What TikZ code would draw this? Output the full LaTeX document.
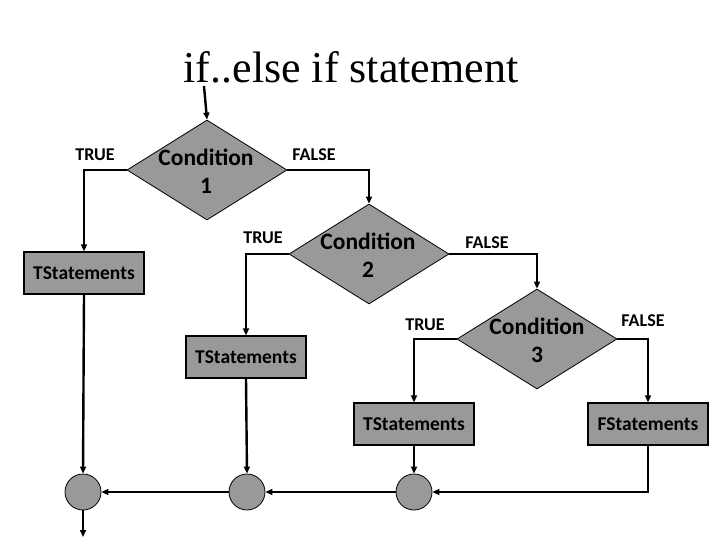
\documentclass[tikz,border=0pt]{standalone}
\usepackage{fontspec}
\setmainfont{Carlito}
\newfontfamily\titlefont{Liberation Serif}
\usetikzlibrary{shapes.geometric,arrows.meta}
\definecolor{boxgray}{HTML}{999999}
\tikzset{
  x=1pt,y=-1pt,
  cond/.style={shape=diamond,draw=black,fill=boxgray,line width=0.8pt,inner sep=0pt,minimum width=160pt,minimum height=100pt},
  condtext/.style={font=\bfseries\fontsize{23.5}{28}\selectfont,align=center,inner sep=0pt},
  stmt/.style={draw=black,fill=boxgray,line width=1.3pt,minimum width=120pt,minimum height=42pt,inner sep=0pt,font=\bfseries\fontsize{19.5}{22}\selectfont},
  junc/.style={shape=circle,draw=black,fill=boxgray,line width=0.8pt,minimum size=36pt,inner sep=0pt},
  lbl/.style={font=\bfseries\fontsize{18}{20}\selectfont,inner sep=0pt},
  conn/.style={line width=2.4pt,-{Triangle[length=7pt,width=6pt]}}
}
\begin{document}
\begin{tikzpicture}
\useasboundingbox (0,0) rectangle (720,540);
\node[font=\titlefont\fontsize{44}{48}\selectfont,anchor=base,inner sep=0pt] (title) at (351,83) {if..else if statement};
\coordinate (start) at (204,86);
\node[cond] (c1) at (207,170) {};
\node[condtext] (c1t) at (206,171) {Condition\\1};
\node[cond] (c2) at (369,254) {};
\node[condtext] (c2t) at (368,255) {Condition\\2};
\node[cond] (c3) at (537,339) {};
\node[condtext] (c3t) at (537,340) {Condition\\3};
\node[stmt] (b1) at (84,273) {TStatements};
\node[stmt] (b2) at (246,357) {TStatements};
\node[stmt] (b3) at (414,424) {TStatements};
\node[stmt] (b4) at (648,424) {FStatements};
\node[junc] (j1) at (83,492) {};
\node[junc] (j2) at (247,492) {};
\node[junc] (j3) at (414,492) {};
\coordinate (end) at (83,537);
\node[lbl] (t1) at (95,155) {TRUE};
\node[lbl] (f1) at (314,155) {FALSE};
\node[lbl] (t2) at (263,238) {TRUE};
\node[lbl] (f2) at (487,243) {FALSE};
\node[lbl] (t3) at (425,325) {TRUE};
\node[lbl] (f3) at (643,321) {FALSE};
\draw[conn] (start) -- (c1.north);
\draw[conn] (c1.west) -| (b1.north);
\draw[conn] (c1.east) -| (c2.north);
\draw[conn] (c2.west) -| (b2.north);
\draw[conn] (c2.east) -| (c3.north);
\draw[conn] (c3.west) -| (b3.north);
\draw[conn] (c3.east) -| (b4.north);
\draw[conn] (b1.south) -- (j1.north);
\draw[conn] (b2.south) -- (j2.north);
\draw[conn] (b3.south) -- (j3.north);
\draw[conn] (b4.south) |- (j3.east);
\draw[conn] (j3.west) -- (j2.east);
\draw[conn] (j2.west) -- (j1.east);
\draw[conn] (j1.south) -- (end);
\end{tikzpicture}
\end{document}
